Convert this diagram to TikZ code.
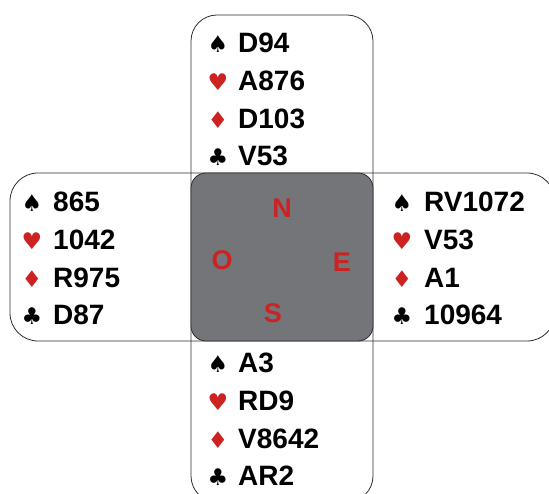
\documentclass[tikz,border=0pt]{standalone}
\usepackage{fontspec}
\setmainfont{Liberation Sans}
\newfontfamily\suitfont{DejaVu Sans}
\usetikzlibrary{positioning}
\definecolor{suitred}{RGB}{204,34,34}
\definecolor{tablegray}{RGB}{115,117,121}
\definecolor{framegray}{RGB}{45,45,45}

\newcommand{\spadesym}{{\suitfont\char"2660}}
\newcommand{\heartsym}{\textcolor{suitred}{\suitfont\char"2665}}
\newcommand{\diamsym}{\textcolor{suitred}{\suitfont\char"2666}}
\newcommand{\clubsym}{{\suitfont\char"2663}}

% one hand: name, suit x, cards x, first baseline, spades, hearts, diamonds, clubs
\newcommand{\hand}[8]{%
  \node[suit]  (#1s)  at (#2,#4)          {\spadesym};
  \node[cards] (#1sc) at (#3,#4)          {#5};
  \node[suit]  (#1h)  at (#2,#4+37.6)     {\heartsym};
  \node[cards] (#1hc) at (#3,#4+37.6)     {#6};
  \node[suit]  (#1d)  at (#2,#4+75.2)     {\diamsym};
  \node[cards] (#1dc) at (#3,#4+75.2)     {#7};
  \node[suit]  (#1c)  at (#2,#4+112.8)    {\clubsym};
  \node[cards] (#1cc) at (#3,#4+112.8)    {#8};
}

\begin{document}
\begin{tikzpicture}[
  x=1pt, y=-1pt,
  frame/.style={draw=framegray, line width=0.8pt},
  suit/.style={anchor=base, inner sep=0pt, font=\fontsize{23}{23}\selectfont},
  cards/.style={anchor=base west, inner sep=0pt, font=\fontsize{28}{28}\selectfont\bfseries},
  seat/.style={inner sep=0pt, text=suitred, font=\fontsize{27}{27}\selectfont\bfseries},
  table/.style={rectangle, rounded corners=15pt, fill=tablegray, frame,
    minimum width=182pt, minimum height=168pt}
]
  \useasboundingbox (0,0) rectangle (549,494);
  \clip (0,0) rectangle (549,494);

  % the two strips of the cross
  \draw[frame, rounded corners=26pt] (191,15) rectangle (373,502);
  \draw[frame, rounded corners=28pt] (10,173) rectangle (555,341);

  % table in the middle
  \node[table] (tbl) at (282,257) {};
  \node[seat] (N) at (282,208) {N};
  \node[seat] (O) at (222,260) {O};
  \node[seat] (E) at (342,262) {E};
  \node[seat] (S) at (273,313) {S};

  % hands
  \hand{hN}{218}{238}{53}{D94}{A876}{D103}{V53}
  \hand{hO}{32}{53}{212}{865}{1042}{R975}{D87}
  \hand{hE}{402}{424}{212}{RV1072}{V53}{A1}{10964}
  \hand{hS}{218}{238}{373}{A3}{RD9}{V8642}{AR2}
\end{tikzpicture}
\end{document}
